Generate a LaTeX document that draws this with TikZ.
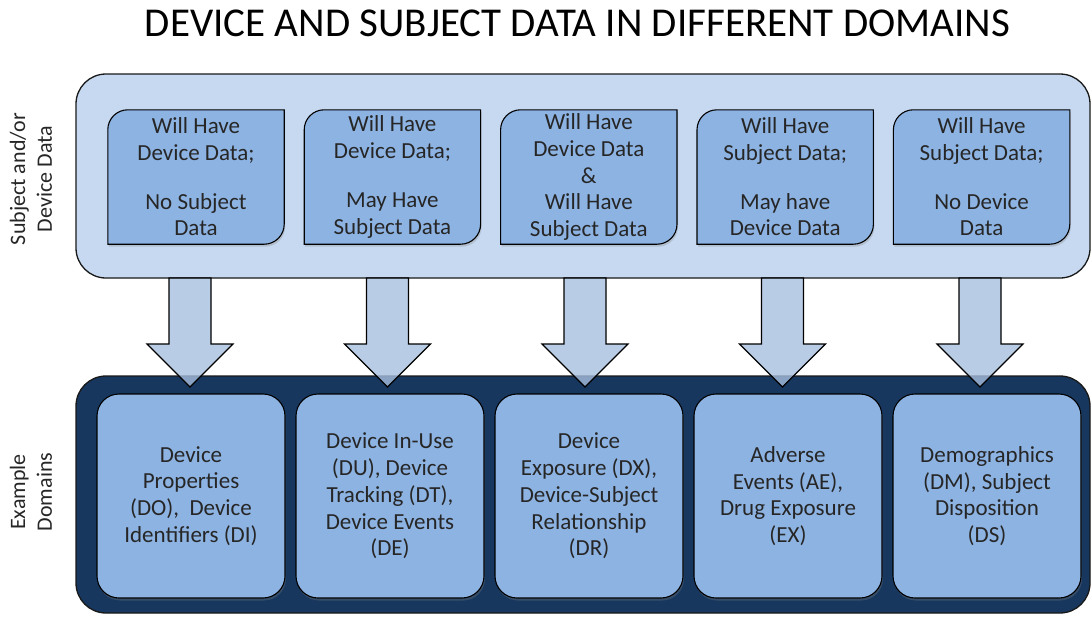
\documentclass[tikz,border=0pt]{standalone}
\usepackage{fontspec}
\setmainfont{Carlito}
\usepackage{tikz}
\usetikzlibrary{backgrounds,shadows}
\definecolor{panelblue}{HTML}{C6D9F1}
\definecolor{cardblue}{HTML}{8DB3E2}
\definecolor{navy}{HTML}{17375E}
\definecolor{arrowblue}{HTML}{A7BFDE}
\definecolor{inktext}{HTML}{262626}
% card with round top-left and bottom-right corners
\newcommand{\diagcard}[1]{%
\path[cardshape] (#1.south west) -- ([yshift=-20pt]#1.north west)
  arc[start angle=180,end angle=90,radius=20pt] -- (#1.north east)
  -- ([yshift=20pt]#1.south east)
  arc[start angle=0,end angle=-90,radius=20pt] -- cycle;}

\begin{document}
\begin{tikzpicture}
[x=1pt, y=-1pt,
panel/.style={draw=black!90, line width=1.3pt, rounded corners=30pt, inner sep=0pt},
cardtext/.style={minimum width=176pt, minimum height=134pt, inner sep=0pt,
  align=center, text=inktext, font=\fontsize{23}{26.7}\selectfont},
cardshape/.style={draw=black, line width=1.1pt, fill=cardblue,
  drop shadow={shadow xshift=1pt, shadow yshift=-2.5pt, opacity=0.3}},
domaincard/.style={draw=black, line width=1.1pt, fill=cardblue, rounded corners=22pt,
  minimum width=188pt, minimum height=204pt, inner sep=0pt, align=center,
  text=inktext, font=\fontsize{23}{26.7}\selectfont,
  drop shadow={shadow xshift=1pt, shadow yshift=-2.5pt, opacity=0.3}},
sidelabel/.style={rotate=90, align=center, text=inktext, font=\fontsize{22}{26.7}\selectfont},
blockarrow/.style={draw=black, line width=1.1pt, fill=arrowblue, fill opacity=0.8, line join=miter}]
\useasboundingbox (0,0) rectangle (1092,616);

\node (title) at (577.5,36) [anchor=base, font=\fontsize{41}{48}\selectfont] {DEVICE AND SUBJECT DATA IN DIFFERENT DOMAINS};

\node (datalabel) at (31,179) [sidelabel] {Subject and/or\\Device Data};
\node (domainlabel) at (31,492) [sidelabel] {Example\\Domains};

\node (have1) at (196,177) [cardtext] {Will Have\\Device Data;\\[22pt]No Subject\\Data};
\node (have2) at (392.4,177) [cardtext] {Will Have\\Device Data;\\[22pt]May Have\\Subject Data};
\node (have3) at (588.8,177) [cardtext] {Will Have\\Device Data\\\&\\Will Have\\Subject Data};
\node (have4) at (785.2,177) [cardtext] {Will Have\\Subject Data;\\[22pt]May have\\Device Data};
\node (have5) at (981.6,177) [cardtext] {Will Have\\Subject Data;\\[22pt]No Device\\Data};

\begin{scope}[on background layer]
\node (datapanel) at (583,176) [panel, fill=panelblue, minimum width=1014pt, minimum height=204pt] {};
\diagcard{have1}
\diagcard{have2}
\diagcard{have3}
\diagcard{have4}
\diagcard{have5}
\end{scope}

\node (domainpanel) at (583,494.5) [panel, fill=navy, minimum width=1014pt, minimum height=237pt] {};

\node (dom1) at (191,496) [domaincard] {Device\\Properties\\(DO),~ Device\\Identifiers (DI)};
\node (dom2) at (390,496) [domaincard] {Device In-Use\\(DU), Device\\Tracking (DT),\\Device Events\\(DE)};
\node (dom3) at (589,496) [domaincard] {Device\\Exposure (DX),\\Device-Subject\\Relationship\\(DR)};
\node (dom4) at (788,496) [domaincard] {Adverse\\Events (AE),\\Drug Exposure\\(EX)};
\node (dom5) at (987,496) [domaincard] {Demographics\\(DM), Subject\\Disposition\\(DS)};

\coordinate (from1) at (190,278);   \coordinate (to1) at (190,387);
\coordinate (from2) at (387.5,278); \coordinate (to2) at (387.5,387);
\coordinate (from3) at (585,278);   \coordinate (to3) at (585,387);
\coordinate (from4) at (782.5,278); \coordinate (to4) at (782.5,387);
\coordinate (from5) at (980,278);   \coordinate (to5) at (980,387);

\draw[blockarrow] (from1) ++(-21,0) -- ++(0,66) -- ++(-22,0) -- (to1) -- ++(43,-43) -- ++(-22,0) -- ++(0,-66) -- cycle;
\draw[blockarrow] (from2) ++(-21,0) -- ++(0,66) -- ++(-22,0) -- (to2) -- ++(43,-43) -- ++(-22,0) -- ++(0,-66) -- cycle;
\draw[blockarrow] (from3) ++(-21,0) -- ++(0,66) -- ++(-22,0) -- (to3) -- ++(43,-43) -- ++(-22,0) -- ++(0,-66) -- cycle;
\draw[blockarrow] (from4) ++(-21,0) -- ++(0,66) -- ++(-22,0) -- (to4) -- ++(43,-43) -- ++(-22,0) -- ++(0,-66) -- cycle;
\draw[blockarrow] (from5) ++(-21,0) -- ++(0,66) -- ++(-22,0) -- (to5) -- ++(43,-43) -- ++(-22,0) -- ++(0,-66) -- cycle;

\end{tikzpicture}
\end{document}
